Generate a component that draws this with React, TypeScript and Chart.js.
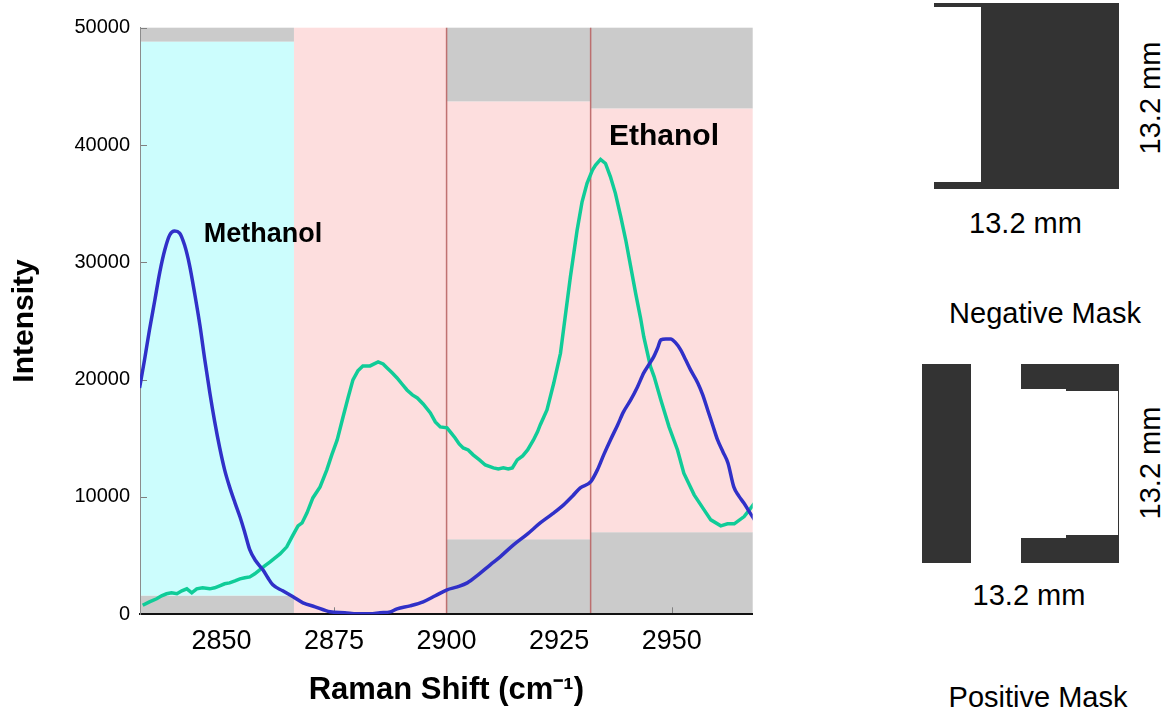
import React, { useEffect, useRef } from 'react';
import { Chart, registerables } from 'chart.js';

Chart.register(...registerables);

// ---------- data ----------
const xTicks = [2850, 2875, 2900, 2925, 2950];
const yTicks = [0, 10000, 20000, 30000, 40000, 50000];
const xTickMarks = [2875, 2950];

const methanolX = [2831.8, 2832.9, 2834.0, 2835.2, 2836.3, 2837.4, 2838.5, 2839.6, 2840.7, 2841.8, 2842.9, 2844.1, 2845.2, 2846.3, 2847.4, 2848.5, 2849.6, 2850.7, 2851.8, 2853.0, 2854.1, 2855.2, 2856.3, 2857.6, 2859.2, 2860.3, 2861.4, 2863.6, 2865.9, 2868.1, 2870.8, 2874.1, 2877.4, 2880.1, 2883.0, 2885.2, 2887.5, 2889.0, 2891.9, 2894.8, 2897.5, 2900.1, 2902.4, 2904.6, 2907.0, 2909.7, 2911.9, 2914.8, 2918.0, 2920.8, 2923.5, 2926.0, 2928.0, 2929.7, 2932.0, 2933.5, 2934.9, 2936.4, 2938.0, 2939.3, 2940.9, 2942.4, 2943.8, 2944.9, 2946.0, 2946.9, 2947.6, 2948.7, 2949.8, 2950.9, 2952.0, 2953.1, 2954.2, 2955.8, 2956.9, 2958.0, 2959.1, 2960.2, 2961.4, 2962.5, 2963.8, 2964.9, 2966.0, 2967.4, 2968.7];
const methanolY = [19290, 21680, 24230, 26790, 29170, 31050, 32330, 32670, 32500, 31470, 29770, 27220, 24660, 21680, 18900, 16400, 14200, 12310, 10860, 9500, 8310, 6940, 5490, 4560, 3790, 3110, 2510, 2000, 1490, 980, 640, 210, 130, 40, 40, 130, 210, 470, 720, 1060, 1580, 2090, 2340, 2680, 3360, 4220, 4900, 5900, 6860, 7790, 8560, 9330, 10090, 10780, 11290, 12310, 13590, 14860, 16140, 17250, 18270, 19380, 20580, 21260, 21940, 22710, 23390, 23470, 23470, 23130, 22540, 21690, 20830, 19720, 18700, 17420, 16140, 14860, 13840, 12900, 10860, 10090, 9500, 8650, 7880];

const ethanolX = [2832.5, 2834.0, 2835.6, 2836.7, 2837.8, 2838.9, 2840.1, 2841.2, 2842.3, 2843.4, 2844.5, 2845.8, 2847.4, 2848.5, 2849.6, 2850.7, 2851.8, 2853.0, 2854.1, 2855.2, 2856.3, 2857.4, 2858.5, 2859.6, 2860.8, 2861.9, 2863.0, 2864.5, 2865.9, 2867.0, 2867.9, 2869.0, 2870.3, 2871.9, 2873.4, 2874.5, 2875.7, 2877.0, 2878.1, 2879.2, 2880.3, 2881.4, 2883.0, 2884.8, 2885.9, 2886.8, 2887.9, 2889.0, 2890.1, 2891.2, 2892.4, 2893.5, 2894.8, 2896.4, 2897.5, 2898.6, 2900.1, 2901.0, 2901.9, 2902.8, 2903.7, 2904.8, 2905.9, 2907.3, 2908.6, 2910.4, 2911.5, 2912.6, 2913.7, 2914.6, 2915.7, 2916.9, 2918.0, 2919.3, 2920.2, 2920.8, 2922.3, 2923.8, 2925.3, 2926.4, 2927.5, 2929.0, 2930.1, 2931.2, 2932.4, 2933.1, 2934.2, 2935.3, 2936.4, 2937.5, 2938.7, 2939.8, 2940.9, 2942.0, 2943.1, 2943.8, 2945.3, 2946.1, 2947.6, 2949.4, 2951.3, 2952.7, 2955.0, 2957.2, 2958.7, 2960.9, 2962.4, 2963.9, 2966.1, 2968.7];
const ethanolY = [770, 1060, 1320, 1580, 1750, 1830, 1750, 2000, 2170, 1830, 2170, 2260, 2170, 2260, 2430, 2600, 2680, 2850, 3020, 3110, 3190, 3450, 3790, 4130, 4470, 4810, 5150, 5750, 6770, 7540, 7790, 8650, 9920, 10860, 12310, 13590, 14860, 16820, 18440, 19980, 20750, 21170, 21170, 21510, 21340, 21000, 20580, 20150, 19630, 19120, 18700, 18440, 17930, 17160, 16400, 15970, 15890, 15460, 15030, 14520, 14180, 14010, 13590, 13160, 12730, 12480, 12390, 12480, 12390, 12480, 13160, 13500, 14010, 14860, 15550, 16140, 17420, 19690, 22250, 25510, 28750, 32750, 35160, 36730, 37860, 38290, 38770, 38430, 37290, 35880, 33880, 31900, 29630, 27360, 25230, 23660, 21110, 20260, 18270, 16000, 14010, 12030, 10180, 8900, 8050, 7540, 7710, 7710, 8330, 9610];

// spectral windows (x range) and the grey-masked parts of each window (intensity)
const regionStart = [2831.9, 2866.1, 2900, 2932];
const regionEnd = [2866.1, 2900, 2932, 2968];
const regionLow = [1600, 0, 6400, 7000];
const regionHigh = [48800, 50000, 43700, 43100];
const dividers = [2900, 2932];

const X_MIN = 2831.9;
const X_MAX = 2968;
const Y_MIN = 0;
const Y_MAX = 50000;

// ---------- styles ----------
const BLUE = '#3030c8';
const GREEN = '#10cc98';
const CYAN = '#ccfdfd';
const PINK = '#fddede';
const GREY = '#cbcbcb';
const regionColors = [CYAN, PINK, PINK, PINK];
const FONT = "'Liberation Sans', Arial, Helvetica, sans-serif";

const bandsPlugin = {
  id: 'bands',
  beforeDraw(chart: any) {
    const { ctx, chartArea } = chart;
    const xs = chart.scales.x;
    const ys = chart.scales.y;
    ctx.save();
    const yTop = ys.getPixelForValue(Y_MAX);
    const yBot = ys.getPixelForValue(Y_MIN);
    for (let i = 0; i < regionStart.length; i++) {
      const x0 = xs.getPixelForValue(regionStart[i]);
      const x1 = xs.getPixelForValue(regionEnd[i]);
      const yHi = ys.getPixelForValue(regionHigh[i]);
      const yLo = ys.getPixelForValue(regionLow[i]);
      ctx.fillStyle = GREY;
      ctx.fillRect(x0, yTop, x1 - x0, yHi - yTop);
      ctx.fillRect(x0, yLo, x1 - x0, yBot - yLo);
      ctx.fillStyle = regionColors[i];
      ctx.fillRect(x0, yHi, x1 - x0, yLo - yHi);
    }
    ctx.strokeStyle = 'rgba(185,100,100,0.9)';
    ctx.lineWidth = 1.5;
    for (const d of dividers) {
      const px = xs.getPixelForValue(d);
      ctx.beginPath();
      ctx.moveTo(px, chartArea.top);
      ctx.lineTo(px, chartArea.bottom);
      ctx.stroke();
    }
    ctx.strokeStyle = '#808080';
    ctx.lineWidth = 1;
    for (const v of yTicks) {
      const py = Math.round(ys.getPixelForValue(v)) + 0.5;
      ctx.beginPath();
      ctx.moveTo(chartArea.left, py);
      ctx.lineTo(chartArea.left + 7, py);
      ctx.stroke();
    }
    for (const v of xTickMarks) {
      const px = Math.round(xs.getPixelForValue(v)) + 0.5;
      ctx.beginPath();
      ctx.moveTo(px, chartArea.bottom);
      ctx.lineTo(px, chartArea.bottom - 7);
      ctx.stroke();
    }
    ctx.restore();
  },
};

const labelsPlugin = {
  id: 'peakLabels',
  afterDatasetsDraw(chart: any) {
    const { ctx } = chart;
    const xs = chart.scales.x;
    const ys = chart.scales.y;
    ctx.save();
    ctx.fillStyle = '#000';
    ctx.textAlign = 'center';
    ctx.textBaseline = 'middle';
    ctx.font = `bold 27px ${FONT}`;
    ctx.fillText('Methanol', xs.getPixelForValue(2859.2), ys.getPixelForValue(32400));
    ctx.font = `bold 30px ${FONT}`;
    ctx.fillText('Ethanol', xs.getPixelForValue(2948.3), ys.getPixelForValue(40700));
    ctx.restore();
  },
};

function SpectrumChart() {
  const ref = useRef<HTMLCanvasElement | null>(null);
  useEffect(() => {
    if (!ref.current) return;
    Chart.defaults.font.family = FONT;
    const chart = new Chart(ref.current, {
      type: 'line',
      data: {
        datasets: [
          {
            label: 'Methanol',
            data: methanolX.map((x, i) => ({ x, y: methanolY[i] })),
            borderColor: BLUE,
            borderWidth: 3.5,
            pointRadius: 0,
            cubicInterpolationMode: 'monotone',
            fill: false,
          },
          {
            label: 'Ethanol',
            data: ethanolX.map((x, i) => ({ x, y: ethanolY[i] })),
            borderColor: GREEN,
            borderWidth: 3.5,
            pointRadius: 0,
            tension: 0,
            fill: false,
          },
        ],
      },
      options: {
        responsive: false,
        animation: false,
        devicePixelRatio: 1,
        layout: { padding: { left: 0, top: 27.7, right: 27.3, bottom: 0 } },
        plugins: { legend: { display: false }, tooltip: { enabled: false } },
        scales: {
          x: {
            type: 'linear',
            min: X_MIN,
            max: X_MAX,
            afterBuildTicks: (s: any) => {
              s.ticks = xTicks.map((v) => ({ value: v }));
            },
            afterFit: (s: any) => {
              s.height = 94.7;
            },
            grid: { display: false, drawTicks: false },
            border: { display: true, color: '#111', width: 2 },
            ticks: {
              font: { size: 27 },
              color: '#000',
              padding: 11,
              maxRotation: 0,
              autoSkip: false,
              callback: (v: any) => String(v),
            },
            title: {
              display: true,
              text: 'Raman Shift (cm⁻¹)',
              color: '#000',
              font: { size: 31, weight: 'bold' },
              padding: { top: 0, bottom: 0 },
            },
          },
          y: {
            type: 'linear',
            min: Y_MIN,
            max: Y_MAX,
            afterBuildTicks: (s: any) => {
              s.ticks = yTicks.map((v) => ({ value: v }));
            },
            afterFit: (s: any) => {
              s.width = 140;
            },
            grid: { display: false, drawTicks: false },
            border: { display: true, color: '#8c8c8c', width: 1 },
            ticks: {
              font: { size: 20 },
              color: '#000',
              padding: 10,
              callback: (v: any) => String(v),
            },
            title: {
              display: true,
              text: 'Intensity',
              color: '#000',
              font: { size: 30, weight: 'bold' },
              padding: { top: 7, bottom: 0 },
            },
          },
        },
      },
      plugins: [bandsPlugin, labelsPlugin],
    } as any);
    return () => chart.destroy();
  }, []);
  return (
    <canvas
      ref={ref}
      width={780}
      height={709}
      style={{ position: 'absolute', left: 0, top: 0, width: 780, height: 709, display: 'block' }}
    />
  );
}

const DARK = '#333333';

function Box({ l, t, w, h, bg = DARK }: { l: number; t: number; w: number; h: number; bg?: string }) {
  return <div style={{ position: 'absolute', left: l, top: t, width: w, height: h, background: bg }} />;
}

function Label({ cx, cy, text, rotate = false, size = 29 }: { cx: number; cy: number; text: string; rotate?: boolean; size?: number }) {
  return (
    <div
      style={{
        position: 'absolute',
        left: cx,
        top: cy,
        transform: `translate(-50%, -50%)${rotate ? ' rotate(-90deg)' : ''}`,
        fontFamily: FONT,
        fontSize: size,
        lineHeight: 1,
        whiteSpace: 'nowrap',
        color: '#000',
      }}
    >
      {text}
    </div>
  );
}

function Masks() {
  return (
    <>
      {/* Negative mask */}
      <Box l={934} t={3} w={185} h={186} />
      <Box l={934} t={7} w={47} h={175} bg="#ffffff" />
      <Label cx={1025.5} cy={222.5} text="13.2 mm" />
      <Label cx={1150} cy={98} text="13.2 mm" rotate />
      <Label cx={1045} cy={313} text="Negative Mask" />

      {/* Positive mask */}
      <Box l={922} t={364} w={49} h={199} />
      <Box l={1021} t={364} w={45} h={25} />
      <Box l={1066} t={364} w={53} h={27} />
      <Box l={1021} t={538} w={45} h={25} />
      <Box l={1066} t={535} w={53} h={28} />
      <Box l={1118} t={391} w={1} h={144} />
      <Label cx={1029} cy={595} text="13.2 mm" />
      <Label cx={1150} cy={463} text="13.2 mm" rotate />
      <Label cx={1038} cy={697} text="Positive Mask" />
    </>
  );
}

export default function App() {
  return (
    <div style={{ position: 'absolute', left: 0, top: 0, width: 1167, height: 709, background: '#ffffff', overflow: 'hidden' }}>
      <SpectrumChart />
      <Masks />
    </div>
  );
}
